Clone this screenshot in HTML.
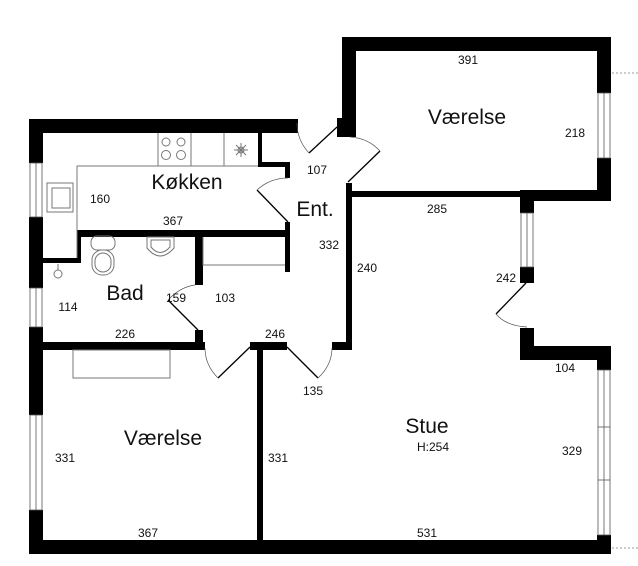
<!DOCTYPE html>
<html><head><meta charset="utf-8"><style>
html,body{margin:0;padding:0;background:#fff;}
svg{display:block;}
text{font-family:"Liberation Sans",sans-serif;fill:#111;}
.n{font-size:12px;text-anchor:middle;}
.r{font-size:21px;text-anchor:middle;}
</style></head><body>
<svg width="638" height="566" viewBox="0 0 638 566" xmlns="http://www.w3.org/2000/svg">
<defs><filter id="sh" x="-5%" y="-5%" width="110%" height="110%"><feGaussianBlur stdDeviation="1.5"/></filter></defs>
<g fill="#000">
<rect x="342" y="37" width="269" height="14"/>
<rect x="342" y="37" width="14" height="100"/>
<rect x="337" y="118" width="18" height="19"/>
<rect x="597" y="37" width="14" height="56"/>
<rect x="597" y="158" width="14" height="43"/>
<rect x="520" y="190" width="91" height="11"/>
<rect x="347" y="191" width="175" height="6"/>
<rect x="520" y="190" width="14" height="23"/>
<rect x="520" y="267" width="14" height="16"/>
<rect x="520" y="328" width="14" height="32"/>
<rect x="520" y="346" width="91" height="14"/>
<rect x="597" y="346" width="14" height="24"/>
<rect x="597" y="535" width="14" height="19"/>
<rect x="29" y="540" width="582" height="14"/>
<rect x="29" y="119" width="269" height="14"/>
<rect x="29" y="119" width="14" height="44"/>
<rect x="29" y="217" width="14" height="71"/>
<rect x="29" y="327" width="14" height="88"/>
<rect x="29" y="510" width="14" height="44"/>
<rect x="346" y="183" width="6" height="165"/>
<rect x="332" y="342" width="20" height="8"/>
<rect x="258" y="133" width="4" height="32"/>
<rect x="258" y="162" width="32" height="5"/>
<rect x="285" y="162" width="5" height="16"/>
<rect x="77" y="230" width="213" height="7"/>
<rect x="285" y="222" width="5" height="50"/>
<rect x="77" y="230" width="4" height="33"/>
<rect x="43" y="258" width="38" height="5"/>
<rect x="195" y="231" width="8" height="54"/>
<rect x="195" y="330" width="8" height="20"/>
<rect x="43" y="342" width="162" height="8"/>
<rect x="250" y="342" width="37" height="8"/>
<rect x="257" y="342" width="6" height="200"/>
</g>
<g fill="#fff" stroke="#555" stroke-width="0.8">
<rect x="598" y="93" width="12" height="65"/>
<rect x="521" y="213" width="12" height="54"/>
<rect x="598" y="370" width="12" height="165"/>
<rect x="30" y="163" width="12" height="54"/>
<rect x="30" y="288" width="12" height="39"/>
<rect x="30" y="415" width="12" height="95"/>
</g>
<g stroke="#555" stroke-width="0.8">
<line x1="604" y1="93" x2="604" y2="158"/><line x1="527" y1="213" x2="527" y2="267"/>
<line x1="604" y1="370" x2="604" y2="535"/><line x1="598" y1="427" x2="610" y2="427"/><line x1="598" y1="480" x2="610" y2="480"/>
<line x1="36" y1="163" x2="36" y2="217"/><line x1="36" y1="288" x2="36" y2="327"/><line x1="36" y1="415" x2="36" y2="510"/>
</g>
<g stroke="#999" stroke-width="1" stroke-dasharray="2,2">
<line x1="612" y1="73" x2="638" y2="73"/><line x1="612" y1="548" x2="638" y2="548"/>
</g>
<g fill="none" stroke="#777" stroke-width="1">
<path d="M77 258 V166 H258"/>
<line x1="158" y1="133" x2="158" y2="166"/><line x1="191" y1="133" x2="191" y2="166"/><line x1="224" y1="133" x2="224" y2="166"/>
<rect x="47" y="183" width="26" height="29"/><rect x="52" y="188" width="18" height="20"/>
<circle cx="166" cy="142" r="4"/><circle cx="181" cy="142" r="4"/><circle cx="166" cy="155" r="4.5"/><circle cx="181" cy="155" r="4.5"/>
<circle cx="241" cy="150" r="3"/>
<path d="M234 150 H248 M241 143 V157 M236 145 L246 155 M246 145 L236 155"/>
<rect x="91" y="236" width="24" height="14" rx="6"/><rect x="92" y="250" width="22" height="25" rx="10"/><rect x="95" y="253" width="16" height="19" rx="8"/>
<path d="M147 237 H174 V248 Q160 264 147 248 Z"/><path d="M151 240 H170 V247 Q160 258 151 247 Z"/>
<circle cx="58" cy="274" r="4"/><line x1="58" y1="264" x2="58" y2="270"/>
<path d="M203 237 V265 H285"/>
<rect x="73" y="350" width="97" height="28"/>
</g>
<g fill="none" stroke="#000" stroke-width="1.3">
<line x1="337" y1="127" x2="309" y2="153"/>
<line x1="348" y1="182" x2="380" y2="151"/>
<line x1="288" y1="222" x2="257" y2="190"/>
<line x1="198" y1="330" x2="168" y2="300"/>
<line x1="218" y1="378" x2="250" y2="347"/>
<line x1="287" y1="347" x2="318" y2="378"/>
<line x1="526" y1="283" x2="496" y2="314"/>
</g>
<g fill="none" stroke="#555" stroke-width="0.7">
<path d="M309 153 Q297 140 297 123"/>
<path d="M380 151 Q368 138 350 137"/>
<path d="M257 190 Q270 178 288 178"/>
<path d="M168 300 Q180 287 195 285"/>
<path d="M218 378 Q205 365 205 348"/>
<path d="M318 378 Q332 365 332 348"/>
<path d="M496 314 Q506 326 527 327"/>
</g>
<text class="r" x="467" y="124">Værelse</text>
<text class="r" x="187" y="189">Køkken</text>
<text class="r" x="315" y="216">Ent.</text>
<text class="r" x="125" y="300">Bad</text>
<text class="r" x="163" y="445">Værelse</text>
<text class="r" x="427" y="433">Stue</text>
<text class="n" x="468" y="64">391</text>
<text class="n" x="575" y="137">218</text>
<text class="n" x="437" y="213">285</text>
<text class="n" x="367" y="272">240</text>
<text class="n" x="329" y="249">332</text>
<text class="n" x="506" y="282">242</text>
<text class="n" x="100" y="203">160</text>
<text class="n" x="173" y="225">367</text>
<text class="n" x="317" y="174">107</text>
<text class="n" x="176" y="302">159</text>
<text class="n" x="225" y="302">103</text>
<text class="n" x="68" y="311">114</text>
<text class="n" x="125" y="338">226</text>
<text class="n" x="275" y="338">246</text>
<text class="n" x="565" y="372">104</text>
<text class="n" x="313" y="395">135</text>
<text class="n" x="433" y="451">H:254</text>
<text class="n" x="572" y="455">329</text>
<text class="n" x="65" y="462">331</text>
<text class="n" x="278" y="462">331</text>
<text class="n" x="148" y="537">367</text>
<text class="n" x="427" y="537">531</text>
</svg>
</body></html>
